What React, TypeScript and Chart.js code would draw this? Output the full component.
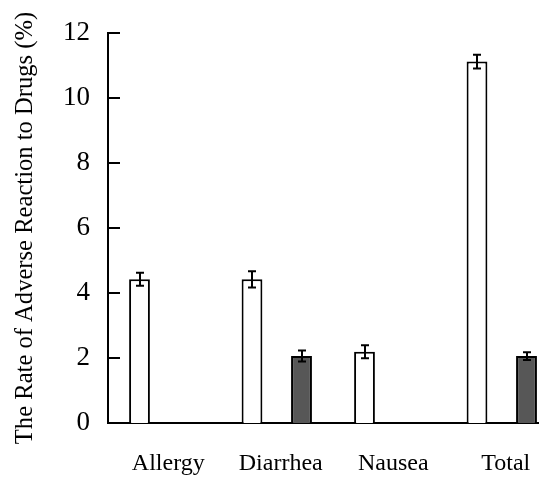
import React, { useEffect, useRef } from "react";
import { Chart, registerables } from "chart.js";

Chart.register(...registerables);

const categories = ["Allergy", "Diarrhea", "Nausea", "Total"];
const seriesAValues: (number | null)[] = [4.42, 4.42, 2.19, 11.12];
const seriesAErrors: (number | null)[] = [0.2, 0.25, 0.2, 0.21];
const seriesBValues: (number | null)[] = [null, 2.06, null, 2.06];
const seriesBErrors: (number | null)[] = [null, 0.17, null, 0.12];
const yMin = 0;
const yMax = 12;
const yStep = 2;
const yTitle = "The Rate of Adverse Reaction to Drugs (%)";

const errorLists = [seriesAErrors, seriesBErrors];

const errorBarPlugin = {
  id: "errorBars",
  afterDatasetsDraw(chart: any) {
    const ctx = chart.ctx;
    const yScale = chart.scales.y;
    ctx.save();
    ctx.strokeStyle = "#000";
    ctx.lineWidth = 2;
    chart.data.datasets.forEach((ds: any, di: number) => {
      const meta = chart.getDatasetMeta(di);
      meta.data.forEach((bar: any, i: number) => {
        const v = ds.data[i];
        const e = errorLists[di][i];
        if (v == null || e == null) return;
        const x = Math.round(bar.x);
        const yt = yScale.getPixelForValue(v + e);
        const yb = yScale.getPixelForValue(v - e);
        const cap = 4;
        ctx.beginPath();
        ctx.moveTo(x, yt);
        ctx.lineTo(x, yb);
        ctx.moveTo(x - cap, yt);
        ctx.lineTo(x + cap, yt);
        ctx.moveTo(x - cap, yb);
        ctx.lineTo(x + cap, yb);
        ctx.stroke();
      });
    });
    ctx.restore();
  },
};

const inwardTicksPlugin = {
  id: "inwardTicks",
  afterDraw(chart: any) {
    const ctx = chart.ctx;
    const yScale = chart.scales.y;
    const left = chart.chartArea.left;
    ctx.save();
    ctx.strokeStyle = "#000";
    ctx.lineWidth = 2;
    yScale.ticks.forEach((t: any) => {
      const y = Math.round(yScale.getPixelForValue(t.value));
      ctx.beginPath();
      ctx.moveTo(left, y);
      ctx.lineTo(left + 12, y);
      ctx.stroke();
    });
    ctx.restore();
  },
};

export default function App() {
  const ref = useRef<HTMLCanvasElement | null>(null);
  useEffect(() => {
    if (!ref.current) return;
    const chart = new Chart(ref.current, {
      type: "bar",
      data: {
        labels: categories,
        datasets: [
          {
            data: seriesAValues,
            backgroundColor: "#ffffff",
            borderColor: "#000000",
            borderWidth: 2,
            categoryPercentage: 0.88,
            barPercentage: 0.42,
          },
          {
            data: seriesBValues,
            backgroundColor: "#575757",
            borderColor: "#000000",
            borderWidth: 2,
            categoryPercentage: 0.88,
            barPercentage: 0.42,
          },
        ],
      },
      options: {
        responsive: false,
        animation: false,
        layout: { padding: { left: 0, top: 25, right: 10, bottom: 0 } },
        plugins: {
          legend: { display: false },
          tooltip: { enabled: false },
        },
        scales: {
          x: {
            grid: { display: false, drawTicks: false },
            border: { display: true, color: "#000", width: 2 },
            ticks: {
              color: "#000",
              font: { family: "'Liberation Serif'", size: 24 },
              padding: 26,
              labelOffset: 4,
              maxRotation: 0,
            },
            afterFit: (s: any) => {
              s.height = 54;
            },
          },
          y: {
            min: yMin,
            max: yMax,
            grid: { display: false, drawTicks: false },
            border: { display: true, color: "#000", width: 2 },
            ticks: {
              stepSize: yStep,
              color: "#000",
              font: { family: "'Liberation Serif'", size: 27, lineHeight: 0.5 },
              padding: 18,
            },
            title: {
              display: true,
              text: yTitle,
              color: "#000",
              font: { family: "'Liberation Serif'", size: 24.6 },
              padding: { top: 3, bottom: 4 },
            },
            afterFit: (s: any) => {
              s.width = 100;
            },
          },
        },
      },
      plugins: [errorBarPlugin, inwardTicksPlugin],
    });
    return () => chart.destroy();
  }, []);
  return (
    <div style={{ width: 539, height: 469, overflow: "hidden", background: "#fff" }}>
      <canvas ref={ref} width={560} height={469} style={{ display: "block" }} />
    </div>
  );
}
